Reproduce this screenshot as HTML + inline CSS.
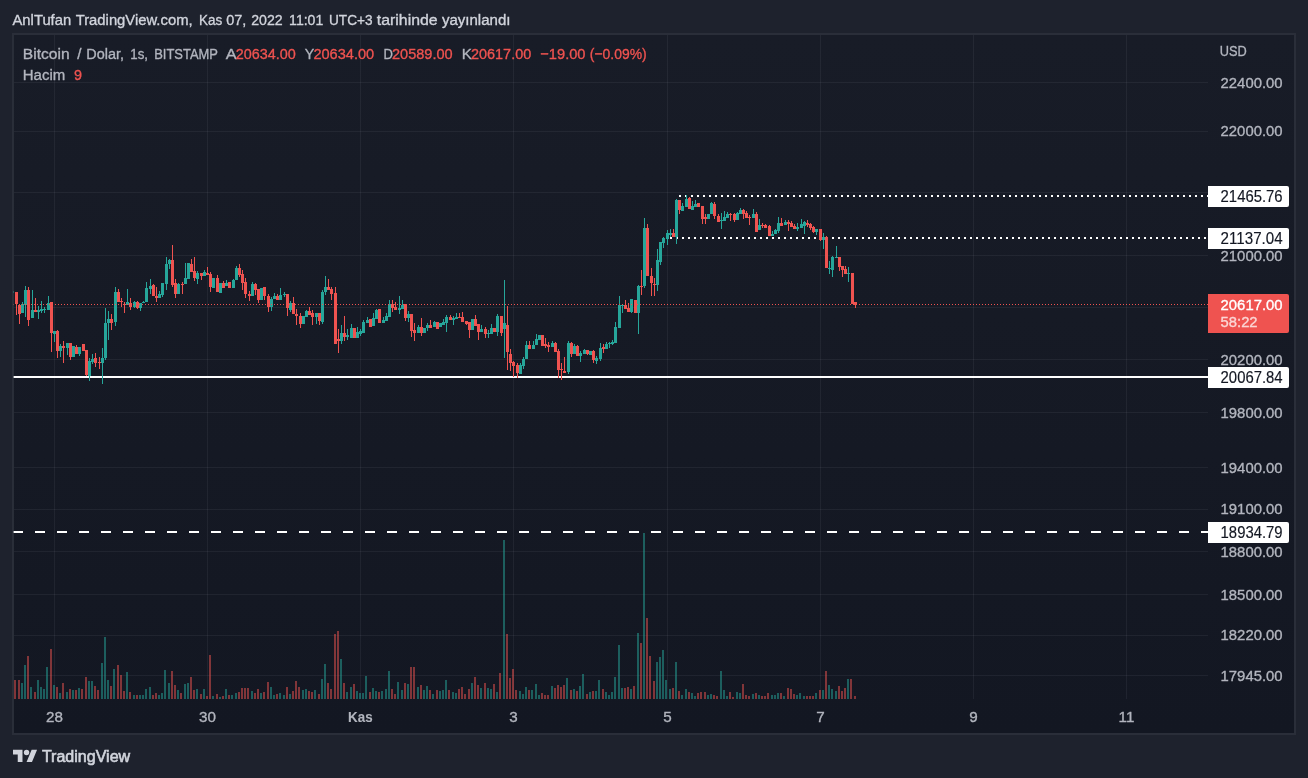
<!DOCTYPE html>
<html lang="tr"><head><meta charset="utf-8"><title>BTCUSD - TradingView</title>
<style>html,body{margin:0;padding:0;background:#1e222d;}body{width:1308px;height:778px;overflow:hidden;}svg{display:block;will-change:transform;}text{font-family:"Liberation Sans",sans-serif;}</style>
</head><body>
<svg width="1308" height="778" viewBox="0 0 1308 778">
<rect x="0" y="0" width="1308" height="778" fill="#1e222d"/>
<rect x="12" y="33" width="1284" height="702" fill="#2a2e39" shape-rendering="crispEdges"/>
<defs><linearGradient id="bg" gradientUnits="userSpaceOnUse" x1="0" y1="35" x2="0" y2="733"><stop offset="0" stop-color="#181c27"/><stop offset="1" stop-color="#131722"/></linearGradient></defs>
<rect x="14" y="35" width="1280" height="698" fill="url(#bg)" shape-rendering="crispEdges"/>
<g fill="#f0f3fa" fill-opacity="0.06" shape-rendering="crispEdges">
<rect x="54" y="35" width="1" height="664"/>
<rect x="207" y="35" width="1" height="664"/>
<rect x="360" y="35" width="1" height="664"/>
<rect x="513" y="35" width="1" height="664"/>
<rect x="667" y="35" width="1" height="664"/>
<rect x="820" y="35" width="1" height="664"/>
<rect x="973" y="35" width="1" height="664"/>
<rect x="1126" y="35" width="1" height="664"/>
<rect x="14" y="82" width="1194" height="1"/>
<rect x="14" y="131" width="1194" height="1"/>
<rect x="14" y="192" width="1194" height="1"/>
<rect x="14" y="255" width="1194" height="1"/>
<rect x="14" y="307" width="1194" height="1"/>
<rect x="14" y="359" width="1194" height="1"/>
<rect x="14" y="412" width="1194" height="1"/>
<rect x="14" y="467" width="1194" height="1"/>
<rect x="14" y="509" width="1194" height="1"/>
<rect x="14" y="551" width="1194" height="1"/>
<rect x="14" y="594" width="1194" height="1"/>
<rect x="14" y="635" width="1194" height="1"/>
<rect x="14" y="675" width="1194" height="1"/>
</g>
<clipPath id="pane"><rect x="13" y="35" width="1195" height="664"/></clipPath>
<g clip-path="url(#pane)" shape-rendering="crispEdges">
<rect x="13" y="376" width="1195" height="2" fill="#ffffff"/>
<line x1="13" y1="532" x2="1208" y2="532" stroke="#ffffff" stroke-width="2" stroke-dasharray="10 12"/>
<line x1="679" y1="196" x2="1208" y2="196" stroke="#ffffff" stroke-width="2" stroke-dasharray="2 4"/>
<line x1="670" y1="238" x2="1208" y2="238" stroke="#ffffff" stroke-width="2" stroke-dasharray="2 4"/>
<g fill="#26a69a" fill-opacity="0.5"><rect x="21" y="683" width="2" height="16"/><rect x="24" y="665" width="2" height="34"/><rect x="30" y="687" width="2" height="12"/><rect x="37" y="680" width="2" height="19"/><rect x="40" y="687" width="2" height="12"/><rect x="43" y="689" width="2" height="10"/><rect x="46" y="667" width="2" height="32"/><rect x="53" y="685" width="2" height="14"/><rect x="59" y="693" width="2" height="6"/><rect x="66" y="692" width="2" height="7"/><rect x="72" y="690" width="2" height="9"/><rect x="78" y="688" width="2" height="11"/><rect x="88" y="681" width="2" height="18"/><rect x="91" y="681" width="2" height="18"/><rect x="101" y="663" width="2" height="36"/><rect x="104" y="637" width="2" height="62"/><rect x="107" y="680" width="2" height="19"/><rect x="113" y="669" width="2" height="30"/><rect x="126" y="672" width="2" height="27"/><rect x="133" y="695" width="2" height="4"/><rect x="139" y="695" width="2" height="4"/><rect x="142" y="695" width="2" height="4"/><rect x="145" y="689" width="2" height="10"/><rect x="149" y="687" width="2" height="12"/><rect x="158" y="695" width="2" height="4"/><rect x="161" y="693" width="2" height="6"/><rect x="164" y="670" width="2" height="29"/><rect x="168" y="683" width="2" height="16"/><rect x="177" y="690" width="2" height="9"/><rect x="184" y="684" width="2" height="15"/><rect x="187" y="683" width="2" height="16"/><rect x="196" y="689" width="2" height="10"/><rect x="203" y="689" width="2" height="10"/><rect x="212" y="696" width="2" height="3"/><rect x="219" y="697" width="2" height="2"/><rect x="225" y="689" width="2" height="10"/><rect x="231" y="695" width="2" height="4"/><rect x="235" y="693" width="2" height="6"/><rect x="251" y="691" width="2" height="8"/><rect x="260" y="693" width="2" height="6"/><rect x="270" y="687" width="2" height="12"/><rect x="273" y="695" width="2" height="4"/><rect x="279" y="693" width="2" height="6"/><rect x="283" y="695" width="2" height="4"/><rect x="289" y="694" width="2" height="5"/><rect x="302" y="690" width="2" height="9"/><rect x="305" y="689" width="2" height="10"/><rect x="314" y="690" width="2" height="9"/><rect x="321" y="679" width="2" height="20"/><rect x="324" y="664" width="2" height="35"/><rect x="340" y="659" width="2" height="40"/><rect x="346" y="692" width="2" height="7"/><rect x="350" y="687" width="2" height="12"/><rect x="356" y="691" width="2" height="8"/><rect x="359" y="693" width="2" height="6"/><rect x="362" y="693" width="2" height="6"/><rect x="365" y="676" width="2" height="23"/><rect x="372" y="688" width="2" height="11"/><rect x="375" y="691" width="2" height="8"/><rect x="381" y="691" width="2" height="8"/><rect x="385" y="689" width="2" height="10"/><rect x="388" y="671" width="2" height="28"/><rect x="397" y="682" width="2" height="17"/><rect x="401" y="690" width="2" height="9"/><rect x="407" y="684" width="2" height="15"/><rect x="417" y="687" width="2" height="12"/><rect x="423" y="690" width="2" height="9"/><rect x="426" y="686" width="2" height="13"/><rect x="432" y="694" width="2" height="5"/><rect x="439" y="691" width="2" height="8"/><rect x="442" y="690" width="2" height="9"/><rect x="445" y="680" width="2" height="19"/><rect x="452" y="692" width="2" height="7"/><rect x="455" y="693" width="2" height="6"/><rect x="471" y="683" width="2" height="16"/><rect x="480" y="688" width="2" height="11"/><rect x="487" y="688" width="2" height="11"/><rect x="490" y="689" width="2" height="10"/><rect x="496" y="692" width="2" height="7"/><rect x="503" y="540" width="2" height="159"/><rect x="519" y="691" width="2" height="8"/><rect x="522" y="694" width="2" height="5"/><rect x="525" y="687" width="2" height="12"/><rect x="531" y="690" width="2" height="9"/><rect x="535" y="684" width="2" height="15"/><rect x="538" y="695" width="2" height="4"/><rect x="551" y="686" width="2" height="13"/><rect x="566" y="678" width="2" height="21"/><rect x="573" y="689" width="2" height="10"/><rect x="579" y="686" width="2" height="13"/><rect x="582" y="674" width="2" height="25"/><rect x="589" y="692" width="2" height="7"/><rect x="595" y="691" width="2" height="8"/><rect x="598" y="680" width="2" height="19"/><rect x="605" y="692" width="2" height="7"/><rect x="608" y="695" width="2" height="4"/><rect x="611" y="692" width="2" height="7"/><rect x="614" y="677" width="2" height="22"/><rect x="618" y="645" width="2" height="54"/><rect x="621" y="688" width="2" height="11"/><rect x="630" y="689" width="2" height="10"/><rect x="637" y="633" width="2" height="66"/><rect x="643" y="533" width="2" height="166"/><rect x="656" y="662" width="2" height="37"/><rect x="659" y="657" width="2" height="42"/><rect x="662" y="650" width="2" height="49"/><rect x="665" y="680" width="2" height="19"/><rect x="669" y="689" width="2" height="10"/><rect x="675" y="662" width="2" height="37"/><rect x="681" y="695" width="2" height="4"/><rect x="685" y="689" width="2" height="10"/><rect x="691" y="693" width="2" height="6"/><rect x="694" y="696" width="2" height="3"/><rect x="707" y="695" width="2" height="4"/><rect x="710" y="694" width="2" height="5"/><rect x="720" y="671" width="2" height="28"/><rect x="723" y="690" width="2" height="9"/><rect x="726" y="696" width="2" height="3"/><rect x="736" y="692" width="2" height="7"/><rect x="739" y="693" width="2" height="6"/><rect x="752" y="694" width="2" height="5"/><rect x="758" y="695" width="2" height="4"/><rect x="771" y="695" width="2" height="4"/><rect x="774" y="695" width="2" height="4"/><rect x="777" y="693" width="2" height="6"/><rect x="783" y="696" width="2" height="3"/><rect x="796" y="695" width="2" height="4"/><rect x="799" y="693" width="2" height="6"/><rect x="803" y="696" width="2" height="3"/><rect x="815" y="693" width="2" height="6"/><rect x="822" y="690" width="2" height="9"/><rect x="828" y="685" width="2" height="14"/><rect x="831" y="689" width="2" height="10"/><rect x="835" y="691" width="2" height="8"/><rect x="847" y="679" width="2" height="20"/></g>
<g fill="#ef5350" fill-opacity="0.5"><rect x="14" y="680" width="2" height="19"/><rect x="18" y="680" width="2" height="19"/><rect x="27" y="656" width="2" height="43"/><rect x="34" y="692" width="2" height="7"/><rect x="50" y="649" width="2" height="50"/><rect x="56" y="687" width="2" height="12"/><rect x="62" y="683" width="2" height="16"/><rect x="69" y="689" width="2" height="10"/><rect x="75" y="690" width="2" height="9"/><rect x="81" y="689" width="2" height="10"/><rect x="85" y="677" width="2" height="22"/><rect x="94" y="686" width="2" height="13"/><rect x="97" y="690" width="2" height="9"/><rect x="110" y="686" width="2" height="13"/><rect x="117" y="665" width="2" height="34"/><rect x="120" y="675" width="2" height="24"/><rect x="123" y="691" width="2" height="8"/><rect x="129" y="692" width="2" height="7"/><rect x="136" y="695" width="2" height="4"/><rect x="152" y="695" width="2" height="4"/><rect x="155" y="693" width="2" height="6"/><rect x="171" y="671" width="2" height="28"/><rect x="174" y="685" width="2" height="14"/><rect x="180" y="693" width="2" height="6"/><rect x="190" y="677" width="2" height="22"/><rect x="193" y="690" width="2" height="9"/><rect x="200" y="694" width="2" height="5"/><rect x="206" y="696" width="2" height="3"/><rect x="209" y="655" width="2" height="44"/><rect x="216" y="694" width="2" height="5"/><rect x="222" y="696" width="2" height="3"/><rect x="228" y="695" width="2" height="4"/><rect x="238" y="692" width="2" height="7"/><rect x="241" y="688" width="2" height="11"/><rect x="244" y="688" width="2" height="11"/><rect x="247" y="688" width="2" height="11"/><rect x="254" y="693" width="2" height="6"/><rect x="257" y="689" width="2" height="10"/><rect x="263" y="692" width="2" height="7"/><rect x="267" y="682" width="2" height="17"/><rect x="276" y="694" width="2" height="5"/><rect x="286" y="687" width="2" height="12"/><rect x="292" y="691" width="2" height="8"/><rect x="295" y="681" width="2" height="18"/><rect x="298" y="687" width="2" height="12"/><rect x="308" y="691" width="2" height="8"/><rect x="311" y="692" width="2" height="7"/><rect x="318" y="694" width="2" height="5"/><rect x="327" y="683" width="2" height="16"/><rect x="330" y="689" width="2" height="10"/><rect x="334" y="634" width="2" height="65"/><rect x="337" y="631" width="2" height="68"/><rect x="343" y="683" width="2" height="16"/><rect x="353" y="684" width="2" height="15"/><rect x="369" y="692" width="2" height="7"/><rect x="378" y="692" width="2" height="7"/><rect x="391" y="689" width="2" height="10"/><rect x="394" y="694" width="2" height="5"/><rect x="404" y="683" width="2" height="16"/><rect x="410" y="667" width="2" height="32"/><rect x="413" y="667" width="2" height="32"/><rect x="420" y="685" width="2" height="14"/><rect x="429" y="690" width="2" height="9"/><rect x="436" y="690" width="2" height="9"/><rect x="448" y="690" width="2" height="9"/><rect x="458" y="689" width="2" height="10"/><rect x="461" y="687" width="2" height="12"/><rect x="464" y="694" width="2" height="5"/><rect x="468" y="689" width="2" height="10"/><rect x="474" y="677" width="2" height="22"/><rect x="477" y="685" width="2" height="14"/><rect x="484" y="683" width="2" height="16"/><rect x="493" y="684" width="2" height="15"/><rect x="499" y="673" width="2" height="26"/><rect x="506" y="634" width="2" height="65"/><rect x="509" y="678" width="2" height="21"/><rect x="512" y="669" width="2" height="30"/><rect x="515" y="690" width="2" height="9"/><rect x="528" y="690" width="2" height="9"/><rect x="541" y="693" width="2" height="6"/><rect x="544" y="695" width="2" height="4"/><rect x="547" y="695" width="2" height="4"/><rect x="554" y="688" width="2" height="11"/><rect x="557" y="685" width="2" height="14"/><rect x="560" y="687" width="2" height="12"/><rect x="563" y="685" width="2" height="14"/><rect x="570" y="690" width="2" height="9"/><rect x="576" y="691" width="2" height="8"/><rect x="586" y="694" width="2" height="5"/><rect x="592" y="691" width="2" height="8"/><rect x="602" y="689" width="2" height="10"/><rect x="624" y="688" width="2" height="11"/><rect x="627" y="687" width="2" height="12"/><rect x="633" y="686" width="2" height="13"/><rect x="640" y="643" width="2" height="56"/><rect x="646" y="618" width="2" height="81"/><rect x="649" y="656" width="2" height="43"/><rect x="653" y="681" width="2" height="18"/><rect x="672" y="688" width="2" height="11"/><rect x="678" y="691" width="2" height="8"/><rect x="688" y="692" width="2" height="7"/><rect x="697" y="693" width="2" height="6"/><rect x="700" y="692" width="2" height="7"/><rect x="704" y="692" width="2" height="7"/><rect x="713" y="695" width="2" height="4"/><rect x="716" y="696" width="2" height="3"/><rect x="729" y="692" width="2" height="7"/><rect x="732" y="697" width="2" height="2"/><rect x="742" y="684" width="2" height="15"/><rect x="745" y="695" width="2" height="4"/><rect x="748" y="696" width="2" height="3"/><rect x="755" y="693" width="2" height="6"/><rect x="761" y="696" width="2" height="3"/><rect x="764" y="696" width="2" height="3"/><rect x="767" y="693" width="2" height="6"/><rect x="780" y="693" width="2" height="6"/><rect x="787" y="688" width="2" height="11"/><rect x="790" y="689" width="2" height="10"/><rect x="793" y="694" width="2" height="5"/><rect x="806" y="696" width="2" height="3"/><rect x="809" y="696" width="2" height="3"/><rect x="812" y="696" width="2" height="3"/><rect x="819" y="690" width="2" height="9"/><rect x="825" y="671" width="2" height="28"/><rect x="838" y="686" width="2" height="13"/><rect x="841" y="691" width="2" height="8"/><rect x="844" y="688" width="2" height="11"/><rect x="850" y="679" width="2" height="20"/><rect x="854" y="696" width="2" height="3"/></g>
<g fill="#26a69a"><rect x="11" y="291" width="3" height="2"/><rect x="22" y="302" width="1" height="11"/><rect x="21" y="304" width="3" height="9"/><rect x="25" y="286" width="1" height="31"/><rect x="24" y="290" width="3" height="15"/><rect x="32" y="290" width="1" height="28"/><rect x="31" y="310" width="3" height="8"/><rect x="38" y="306" width="1" height="13"/><rect x="37" y="310" width="3" height="2"/><rect x="41" y="301" width="1" height="12"/><rect x="40" y="309" width="3" height="2"/><rect x="44" y="307" width="1" height="6"/><rect x="43" y="309" width="3" height="1"/><rect x="48" y="296" width="1" height="14"/><rect x="47" y="303" width="3" height="7"/><rect x="54" y="331" width="1" height="11"/><rect x="53" y="331" width="3" height="3"/><rect x="60" y="344" width="1" height="13"/><rect x="59" y="346" width="3" height="5"/><rect x="67" y="343" width="1" height="12"/><rect x="66" y="343" width="3" height="5"/><rect x="72" y="346" width="3" height="11"/><rect x="79" y="347" width="1" height="9"/><rect x="78" y="347" width="3" height="7"/><rect x="89" y="358" width="1" height="23"/><rect x="88" y="361" width="3" height="15"/><rect x="92" y="354" width="1" height="10"/><rect x="91" y="359" width="3" height="3"/><rect x="102" y="348" width="1" height="36"/><rect x="101" y="358" width="3" height="5"/><rect x="105" y="308" width="1" height="52"/><rect x="104" y="323" width="3" height="35"/><rect x="108" y="311" width="1" height="29"/><rect x="107" y="319" width="3" height="4"/><rect x="115" y="287" width="1" height="39"/><rect x="114" y="292" width="3" height="30"/><rect x="127" y="289" width="1" height="16"/><rect x="126" y="302" width="3" height="3"/><rect x="134" y="301" width="1" height="7"/><rect x="133" y="302" width="3" height="5"/><rect x="140" y="303" width="1" height="8"/><rect x="139" y="303" width="3" height="5"/><rect x="143" y="301" width="1" height="2"/><rect x="142" y="302" width="3" height="1"/><rect x="146" y="282" width="1" height="20"/><rect x="145" y="288" width="3" height="14"/><rect x="150" y="279" width="1" height="15"/><rect x="149" y="286" width="3" height="3"/><rect x="159" y="291" width="1" height="7"/><rect x="158" y="294" width="3" height="4"/><rect x="162" y="283" width="1" height="14"/><rect x="161" y="283" width="3" height="12"/><rect x="166" y="257" width="1" height="33"/><rect x="165" y="264" width="3" height="20"/><rect x="169" y="259" width="1" height="10"/><rect x="168" y="260" width="3" height="4"/><rect x="178" y="283" width="1" height="11"/><rect x="177" y="284" width="3" height="10"/><rect x="185" y="263" width="1" height="21"/><rect x="184" y="278" width="3" height="6"/><rect x="187" y="263" width="3" height="16"/><rect x="197" y="271" width="1" height="13"/><rect x="196" y="273" width="3" height="6"/><rect x="204" y="270" width="1" height="6"/><rect x="203" y="272" width="3" height="4"/><rect x="212" y="278" width="3" height="10"/><rect x="219" y="283" width="3" height="10"/><rect x="226" y="280" width="1" height="6"/><rect x="225" y="283" width="3" height="3"/><rect x="233" y="279" width="1" height="9"/><rect x="232" y="280" width="3" height="8"/><rect x="236" y="266" width="1" height="14"/><rect x="235" y="268" width="3" height="12"/><rect x="252" y="282" width="1" height="14"/><rect x="251" y="284" width="3" height="12"/><rect x="260" y="288" width="3" height="12"/><rect x="271" y="297" width="1" height="14"/><rect x="270" y="299" width="3" height="8"/><rect x="274" y="293" width="1" height="6"/><rect x="273" y="296" width="3" height="3"/><rect x="280" y="288" width="1" height="12"/><rect x="279" y="295" width="3" height="5"/><rect x="284" y="292" width="1" height="5"/><rect x="283" y="294" width="3" height="1"/><rect x="290" y="301" width="1" height="11"/><rect x="289" y="303" width="3" height="7"/><rect x="302" y="316" width="3" height="8"/><rect x="306" y="310" width="1" height="7"/><rect x="305" y="311" width="3" height="6"/><rect x="316" y="313" width="1" height="11"/><rect x="315" y="313" width="3" height="4"/><rect x="322" y="290" width="1" height="34"/><rect x="321" y="292" width="3" height="30"/><rect x="325" y="276" width="1" height="19"/><rect x="324" y="287" width="3" height="5"/><rect x="341" y="325" width="1" height="19"/><rect x="340" y="333" width="3" height="8"/><rect x="347" y="329" width="1" height="11"/><rect x="346" y="335" width="3" height="2"/><rect x="351" y="324" width="1" height="14"/><rect x="350" y="328" width="3" height="10"/><rect x="357" y="327" width="1" height="11"/><rect x="356" y="332" width="3" height="6"/><rect x="360" y="329" width="1" height="7"/><rect x="359" y="331" width="3" height="3"/><rect x="363" y="320" width="1" height="13"/><rect x="362" y="322" width="3" height="11"/><rect x="367" y="317" width="1" height="6"/><rect x="366" y="320" width="3" height="3"/><rect x="373" y="313" width="1" height="13"/><rect x="372" y="318" width="3" height="8"/><rect x="376" y="309" width="1" height="10"/><rect x="375" y="310" width="3" height="9"/><rect x="383" y="317" width="1" height="6"/><rect x="382" y="320" width="3" height="3"/><rect x="386" y="313" width="1" height="8"/><rect x="385" y="316" width="3" height="5"/><rect x="389" y="300" width="1" height="17"/><rect x="388" y="304" width="3" height="13"/><rect x="399" y="296" width="1" height="18"/><rect x="398" y="308" width="3" height="2"/><rect x="402" y="300" width="1" height="9"/><rect x="401" y="305" width="3" height="4"/><rect x="408" y="311" width="1" height="11"/><rect x="407" y="314" width="3" height="4"/><rect x="418" y="325" width="1" height="8"/><rect x="417" y="327" width="3" height="6"/><rect x="423" y="328" width="3" height="5"/><rect x="427" y="323" width="1" height="8"/><rect x="426" y="325" width="3" height="3"/><rect x="434" y="321" width="1" height="6"/><rect x="433" y="322" width="3" height="5"/><rect x="439" y="323" width="3" height="4"/><rect x="443" y="319" width="1" height="6"/><rect x="442" y="322" width="3" height="3"/><rect x="446" y="315" width="1" height="17"/><rect x="445" y="317" width="3" height="6"/><rect x="453" y="316" width="1" height="9"/><rect x="452" y="318" width="3" height="2"/><rect x="456" y="313" width="1" height="6"/><rect x="455" y="317" width="3" height="2"/><rect x="471" y="319" width="3" height="11"/><rect x="481" y="325" width="1" height="7"/><rect x="480" y="329" width="3" height="3"/><rect x="488" y="330" width="1" height="8"/><rect x="487" y="333" width="3" height="1"/><rect x="491" y="324" width="1" height="10"/><rect x="490" y="328" width="3" height="6"/><rect x="497" y="314" width="1" height="22"/><rect x="496" y="316" width="3" height="16"/><rect x="504" y="280" width="1" height="78"/><rect x="503" y="323" width="3" height="6"/><rect x="520" y="363" width="1" height="11"/><rect x="519" y="365" width="3" height="9"/><rect x="523" y="357" width="1" height="12"/><rect x="522" y="359" width="3" height="7"/><rect x="526" y="341" width="1" height="18"/><rect x="525" y="345" width="3" height="14"/><rect x="533" y="341" width="1" height="8"/><rect x="532" y="345" width="3" height="4"/><rect x="536" y="334" width="1" height="11"/><rect x="535" y="339" width="3" height="6"/><rect x="538" y="335" width="3" height="5"/><rect x="552" y="341" width="1" height="6"/><rect x="551" y="343" width="3" height="4"/><rect x="568" y="341" width="1" height="33"/><rect x="567" y="343" width="3" height="29"/><rect x="574" y="344" width="1" height="10"/><rect x="573" y="346" width="3" height="8"/><rect x="580" y="351" width="1" height="11"/><rect x="579" y="353" width="3" height="3"/><rect x="584" y="349" width="1" height="5"/><rect x="583" y="350" width="3" height="4"/><rect x="589" y="351" width="3" height="4"/><rect x="596" y="356" width="1" height="8"/><rect x="595" y="358" width="3" height="3"/><rect x="600" y="343" width="1" height="18"/><rect x="599" y="348" width="3" height="11"/><rect x="606" y="342" width="1" height="7"/><rect x="605" y="344" width="3" height="5"/><rect x="609" y="342" width="1" height="6"/><rect x="608" y="343" width="3" height="1"/><rect x="612" y="340" width="1" height="5"/><rect x="611" y="342" width="3" height="2"/><rect x="615" y="322" width="1" height="21"/><rect x="614" y="327" width="3" height="16"/><rect x="619" y="296" width="1" height="32"/><rect x="618" y="305" width="3" height="23"/><rect x="622" y="304" width="1" height="9"/><rect x="621" y="305" width="3" height="1"/><rect x="631" y="299" width="1" height="14"/><rect x="630" y="299" width="3" height="13"/><rect x="638" y="285" width="1" height="49"/><rect x="637" y="286" width="3" height="27"/><rect x="644" y="218" width="1" height="70"/><rect x="643" y="228" width="3" height="58"/><rect x="657" y="249" width="1" height="42"/><rect x="656" y="260" width="3" height="25"/><rect x="660" y="242" width="1" height="23"/><rect x="659" y="242" width="3" height="20"/><rect x="663" y="237" width="1" height="11"/><rect x="662" y="238" width="3" height="5"/><rect x="667" y="230" width="1" height="15"/><rect x="666" y="233" width="3" height="6"/><rect x="670" y="229" width="1" height="8"/><rect x="669" y="233" width="3" height="2"/><rect x="676" y="199" width="1" height="45"/><rect x="675" y="200" width="3" height="37"/><rect x="682" y="203" width="1" height="8"/><rect x="681" y="206" width="3" height="5"/><rect x="686" y="195" width="1" height="12"/><rect x="685" y="199" width="3" height="8"/><rect x="692" y="201" width="1" height="9"/><rect x="691" y="206" width="3" height="4"/><rect x="695" y="200" width="1" height="7"/><rect x="694" y="204" width="3" height="3"/><rect x="707" y="214" width="3" height="5"/><rect x="711" y="202" width="1" height="12"/><rect x="710" y="203" width="3" height="11"/><rect x="721" y="213" width="1" height="16"/><rect x="720" y="220" width="3" height="1"/><rect x="724" y="211" width="1" height="10"/><rect x="723" y="217" width="3" height="4"/><rect x="727" y="212" width="1" height="6"/><rect x="726" y="214" width="3" height="4"/><rect x="737" y="212" width="1" height="8"/><rect x="736" y="213" width="3" height="7"/><rect x="740" y="208" width="1" height="6"/><rect x="739" y="210" width="3" height="4"/><rect x="753" y="209" width="1" height="9"/><rect x="752" y="214" width="3" height="4"/><rect x="759" y="219" width="1" height="11"/><rect x="758" y="225" width="3" height="5"/><rect x="772" y="231" width="1" height="5"/><rect x="771" y="234" width="3" height="2"/><rect x="775" y="229" width="1" height="5"/><rect x="774" y="230" width="3" height="4"/><rect x="778" y="217" width="1" height="16"/><rect x="777" y="223" width="3" height="8"/><rect x="785" y="220" width="1" height="5"/><rect x="784" y="222" width="3" height="3"/><rect x="797" y="223" width="1" height="8"/><rect x="796" y="227" width="3" height="2"/><rect x="801" y="219" width="1" height="9"/><rect x="800" y="224" width="3" height="4"/><rect x="804" y="221" width="1" height="13"/><rect x="803" y="222" width="3" height="4"/><rect x="816" y="229" width="1" height="6"/><rect x="815" y="229" width="3" height="3"/><rect x="823" y="233" width="1" height="16"/><rect x="822" y="237" width="3" height="3"/><rect x="829" y="261" width="1" height="13"/><rect x="828" y="268" width="3" height="1"/><rect x="832" y="256" width="1" height="21"/><rect x="831" y="257" width="3" height="13"/><rect x="836" y="246" width="1" height="12"/><rect x="835" y="257" width="3" height="1"/><rect x="848" y="267" width="1" height="15"/><rect x="847" y="273" width="3" height="1"/></g>
<g fill="#ef5350"><rect x="16" y="292" width="1" height="23"/><rect x="15" y="292" width="3" height="12"/><rect x="19" y="305" width="1" height="19"/><rect x="18" y="305" width="3" height="9"/><rect x="28" y="287" width="1" height="39"/><rect x="27" y="290" width="3" height="30"/><rect x="35" y="298" width="1" height="14"/><rect x="34" y="310" width="3" height="2"/><rect x="51" y="302" width="1" height="50"/><rect x="50" y="302" width="3" height="31"/><rect x="57" y="330" width="1" height="28"/><rect x="56" y="331" width="3" height="20"/><rect x="63" y="341" width="1" height="22"/><rect x="62" y="346" width="3" height="2"/><rect x="70" y="343" width="1" height="17"/><rect x="69" y="343" width="3" height="14"/><rect x="76" y="345" width="1" height="9"/><rect x="75" y="347" width="3" height="7"/><rect x="82" y="344" width="3" height="7"/><rect x="86" y="350" width="1" height="26"/><rect x="85" y="350" width="3" height="25"/><rect x="95" y="353" width="1" height="14"/><rect x="94" y="358" width="3" height="5"/><rect x="99" y="357" width="1" height="12"/><rect x="98" y="362" width="3" height="1"/><rect x="111" y="314" width="1" height="16"/><rect x="110" y="319" width="3" height="4"/><rect x="118" y="289" width="1" height="13"/><rect x="117" y="292" width="3" height="10"/><rect x="121" y="298" width="1" height="9"/><rect x="120" y="301" width="3" height="1"/><rect x="124" y="302" width="1" height="11"/><rect x="123" y="304" width="3" height="1"/><rect x="130" y="298" width="1" height="12"/><rect x="129" y="303" width="3" height="4"/><rect x="137" y="301" width="1" height="8"/><rect x="136" y="302" width="3" height="6"/><rect x="153" y="284" width="1" height="12"/><rect x="152" y="285" width="3" height="11"/><rect x="156" y="287" width="1" height="15"/><rect x="155" y="296" width="3" height="2"/><rect x="172" y="245" width="1" height="42"/><rect x="171" y="260" width="3" height="25"/><rect x="175" y="279" width="1" height="19"/><rect x="174" y="283" width="3" height="11"/><rect x="182" y="282" width="1" height="12"/><rect x="181" y="284" width="3" height="1"/><rect x="191" y="259" width="1" height="13"/><rect x="190" y="264" width="3" height="8"/><rect x="194" y="257" width="1" height="24"/><rect x="193" y="271" width="3" height="7"/><rect x="201" y="273" width="1" height="7"/><rect x="200" y="273" width="3" height="3"/><rect x="207" y="267" width="1" height="8"/><rect x="206" y="273" width="3" height="2"/><rect x="210" y="272" width="1" height="20"/><rect x="209" y="274" width="3" height="13"/><rect x="217" y="275" width="1" height="17"/><rect x="216" y="278" width="3" height="14"/><rect x="223" y="281" width="1" height="7"/><rect x="222" y="283" width="3" height="5"/><rect x="228" y="282" width="3" height="6"/><rect x="239" y="264" width="1" height="13"/><rect x="238" y="268" width="3" height="7"/><rect x="242" y="270" width="1" height="20"/><rect x="241" y="274" width="3" height="9"/><rect x="245" y="278" width="1" height="20"/><rect x="244" y="282" width="3" height="12"/><rect x="249" y="291" width="1" height="10"/><rect x="248" y="294" width="3" height="2"/><rect x="255" y="283" width="1" height="12"/><rect x="254" y="284" width="3" height="6"/><rect x="258" y="289" width="1" height="14"/><rect x="257" y="289" width="3" height="11"/><rect x="264" y="287" width="1" height="13"/><rect x="263" y="287" width="3" height="9"/><rect x="268" y="294" width="1" height="18"/><rect x="267" y="296" width="3" height="11"/><rect x="277" y="294" width="1" height="6"/><rect x="276" y="296" width="3" height="4"/><rect x="287" y="294" width="1" height="22"/><rect x="286" y="294" width="3" height="14"/><rect x="293" y="297" width="1" height="17"/><rect x="292" y="303" width="3" height="11"/><rect x="296" y="309" width="1" height="16"/><rect x="295" y="314" width="3" height="2"/><rect x="300" y="313" width="1" height="15"/><rect x="299" y="316" width="3" height="8"/><rect x="309" y="307" width="1" height="8"/><rect x="308" y="311" width="3" height="4"/><rect x="312" y="310" width="1" height="15"/><rect x="311" y="313" width="3" height="4"/><rect x="319" y="313" width="1" height="12"/><rect x="318" y="313" width="3" height="8"/><rect x="328" y="279" width="1" height="11"/><rect x="327" y="287" width="3" height="3"/><rect x="331" y="287" width="1" height="13"/><rect x="330" y="289" width="3" height="5"/><rect x="335" y="287" width="1" height="57"/><rect x="334" y="293" width="3" height="51"/><rect x="338" y="329" width="1" height="24"/><rect x="337" y="339" width="3" height="2"/><rect x="344" y="316" width="1" height="25"/><rect x="343" y="333" width="3" height="4"/><rect x="353" y="328" width="3" height="10"/><rect x="369" y="319" width="3" height="8"/><rect x="378" y="309" width="3" height="14"/><rect x="392" y="300" width="1" height="12"/><rect x="391" y="304" width="3" height="4"/><rect x="395" y="302" width="1" height="8"/><rect x="394" y="307" width="3" height="3"/><rect x="405" y="304" width="1" height="17"/><rect x="404" y="304" width="3" height="14"/><rect x="411" y="314" width="1" height="23"/><rect x="410" y="314" width="3" height="17"/><rect x="414" y="323" width="1" height="18"/><rect x="413" y="330" width="3" height="3"/><rect x="421" y="318" width="1" height="18"/><rect x="420" y="327" width="3" height="6"/><rect x="430" y="320" width="1" height="8"/><rect x="429" y="325" width="3" height="3"/><rect x="436" y="322" width="3" height="7"/><rect x="450" y="315" width="1" height="5"/><rect x="449" y="317" width="3" height="3"/><rect x="459" y="313" width="1" height="5"/><rect x="458" y="317" width="3" height="1"/><rect x="462" y="312" width="1" height="10"/><rect x="461" y="317" width="3" height="5"/><rect x="466" y="321" width="1" height="4"/><rect x="465" y="321" width="3" height="3"/><rect x="469" y="322" width="1" height="16"/><rect x="468" y="322" width="3" height="8"/><rect x="475" y="315" width="1" height="11"/><rect x="474" y="319" width="3" height="7"/><rect x="478" y="324" width="1" height="16"/><rect x="477" y="324" width="3" height="8"/><rect x="485" y="327" width="1" height="11"/><rect x="484" y="329" width="3" height="5"/><rect x="493" y="328" width="3" height="4"/><rect x="501" y="316" width="1" height="20"/><rect x="500" y="316" width="3" height="17"/><rect x="507" y="306" width="1" height="64"/><rect x="506" y="325" width="3" height="27"/><rect x="510" y="349" width="1" height="22"/><rect x="509" y="354" width="3" height="9"/><rect x="513" y="361" width="1" height="16"/><rect x="512" y="362" width="3" height="4"/><rect x="517" y="363" width="1" height="15"/><rect x="516" y="365" width="3" height="8"/><rect x="529" y="341" width="1" height="8"/><rect x="528" y="345" width="3" height="4"/><rect x="541" y="335" width="3" height="11"/><rect x="545" y="338" width="1" height="10"/><rect x="544" y="344" width="3" height="2"/><rect x="548" y="342" width="1" height="10"/><rect x="547" y="345" width="3" height="2"/><rect x="555" y="342" width="1" height="10"/><rect x="554" y="343" width="3" height="9"/><rect x="558" y="349" width="1" height="29"/><rect x="557" y="351" width="3" height="19"/><rect x="561" y="363" width="1" height="17"/><rect x="560" y="369" width="3" height="1"/><rect x="564" y="357" width="1" height="16"/><rect x="563" y="371" width="3" height="2"/><rect x="571" y="342" width="1" height="15"/><rect x="570" y="343" width="3" height="11"/><rect x="577" y="345" width="1" height="11"/><rect x="576" y="346" width="3" height="10"/><rect x="587" y="350" width="1" height="5"/><rect x="586" y="350" width="3" height="4"/><rect x="593" y="350" width="1" height="13"/><rect x="592" y="351" width="3" height="9"/><rect x="603" y="344" width="1" height="9"/><rect x="602" y="347" width="3" height="2"/><rect x="625" y="300" width="1" height="9"/><rect x="624" y="305" width="3" height="4"/><rect x="628" y="303" width="1" height="9"/><rect x="627" y="308" width="3" height="4"/><rect x="634" y="300" width="3" height="13"/><rect x="641" y="270" width="1" height="25"/><rect x="640" y="286" width="3" height="1"/><rect x="647" y="224" width="1" height="52"/><rect x="646" y="228" width="3" height="48"/><rect x="651" y="268" width="1" height="28"/><rect x="650" y="276" width="3" height="7"/><rect x="654" y="278" width="1" height="18"/><rect x="653" y="284" width="3" height="1"/><rect x="673" y="229" width="1" height="8"/><rect x="672" y="233" width="3" height="4"/><rect x="679" y="200" width="1" height="14"/><rect x="678" y="200" width="3" height="10"/><rect x="689" y="197" width="1" height="12"/><rect x="688" y="198" width="3" height="11"/><rect x="697" y="203" width="3" height="4"/><rect x="702" y="206" width="1" height="18"/><rect x="701" y="206" width="3" height="13"/><rect x="705" y="214" width="1" height="10"/><rect x="704" y="217" width="3" height="2"/><rect x="714" y="202" width="1" height="17"/><rect x="713" y="204" width="3" height="12"/><rect x="718" y="214" width="1" height="8"/><rect x="717" y="216" width="3" height="6"/><rect x="730" y="213" width="1" height="8"/><rect x="729" y="214" width="3" height="1"/><rect x="734" y="213" width="1" height="9"/><rect x="733" y="214" width="3" height="6"/><rect x="743" y="209" width="1" height="10"/><rect x="742" y="210" width="3" height="4"/><rect x="746" y="211" width="1" height="7"/><rect x="745" y="213" width="3" height="5"/><rect x="749" y="215" width="1" height="10"/><rect x="748" y="217" width="3" height="1"/><rect x="756" y="212" width="1" height="20"/><rect x="755" y="214" width="3" height="18"/><rect x="762" y="223" width="1" height="5"/><rect x="761" y="225" width="3" height="1"/><rect x="765" y="224" width="1" height="4"/><rect x="764" y="225" width="3" height="3"/><rect x="769" y="225" width="1" height="11"/><rect x="768" y="226" width="3" height="10"/><rect x="781" y="218" width="1" height="8"/><rect x="780" y="223" width="3" height="3"/><rect x="788" y="220" width="1" height="11"/><rect x="787" y="222" width="3" height="2"/><rect x="791" y="221" width="1" height="6"/><rect x="790" y="223" width="3" height="4"/><rect x="794" y="224" width="1" height="5"/><rect x="793" y="226" width="3" height="3"/><rect x="807" y="220" width="1" height="7"/><rect x="806" y="223" width="3" height="2"/><rect x="810" y="223" width="1" height="7"/><rect x="809" y="224" width="3" height="4"/><rect x="813" y="226" width="1" height="7"/><rect x="812" y="227" width="3" height="5"/><rect x="820" y="229" width="1" height="12"/><rect x="819" y="229" width="3" height="11"/><rect x="826" y="236" width="1" height="32"/><rect x="825" y="237" width="3" height="31"/><rect x="839" y="257" width="1" height="14"/><rect x="838" y="257" width="3" height="10"/><rect x="842" y="266" width="1" height="11"/><rect x="841" y="266" width="3" height="4"/><rect x="845" y="266" width="1" height="8"/><rect x="844" y="269" width="3" height="5"/><rect x="851" y="273" width="3" height="31"/><rect x="855" y="302" width="1" height="6"/><rect x="854" y="302" width="3" height="3"/></g>
<line x1="13" y1="304.5" x2="1208" y2="304.5" stroke="#ef5350" stroke-width="1" stroke-dasharray="1 2"/>
</g>
<rect x="13" y="35" width="1" height="698" fill="#2a2e39" fill-opacity="0.6" shape-rendering="crispEdges"/>
<text x="12.5" y="24.9" font-size="15.2" fill="#d1d4dc" stroke="#d1d4dc" stroke-width="0.35" textLength="58.7" lengthAdjust="spacingAndGlyphs">AnlTufan</text>
<text x="75.7" y="24.9" font-size="15.2" fill="#d1d4dc" stroke="#d1d4dc" stroke-width="0.35" textLength="116.9" lengthAdjust="spacingAndGlyphs">TradingView.com,</text>
<text x="199.0" y="24.9" font-size="15.2" fill="#d1d4dc" stroke="#d1d4dc" stroke-width="0.35" textLength="23.2" lengthAdjust="spacingAndGlyphs">Kas</text>
<text x="226.2" y="24.9" font-size="15.2" fill="#d1d4dc" stroke="#d1d4dc" stroke-width="0.35" textLength="20.1" lengthAdjust="spacingAndGlyphs">07,</text>
<text x="251.2" y="24.9" font-size="15.2" fill="#d1d4dc" stroke="#d1d4dc" stroke-width="0.35" textLength="31.5" lengthAdjust="spacingAndGlyphs">2022</text>
<text x="289.1" y="24.9" font-size="15.2" fill="#d1d4dc" stroke="#d1d4dc" stroke-width="0.35" textLength="34.2" lengthAdjust="spacingAndGlyphs">11:01</text>
<text x="329.0" y="24.9" font-size="15.2" fill="#d1d4dc" stroke="#d1d4dc" stroke-width="0.35" textLength="43.5" lengthAdjust="spacingAndGlyphs">UTC+3</text>
<text x="376.8" y="24.9" font-size="15.2" fill="#d1d4dc" stroke="#d1d4dc" stroke-width="0.35" textLength="60.8" lengthAdjust="spacingAndGlyphs">tarihinde</text>
<text x="441.9" y="24.9" font-size="15.2" fill="#d1d4dc" stroke="#d1d4dc" stroke-width="0.35" textLength="68.6" lengthAdjust="spacingAndGlyphs">yayınlandı</text>
<text x="22.8" y="58.9" font-size="15.2" fill="#b2b5be" stroke="#b2b5be" stroke-width="0.35" textLength="46.8" lengthAdjust="spacingAndGlyphs">Bitcoin</text>
<text x="86.3" y="58.9" font-size="15.2" fill="#b2b5be" stroke="#b2b5be" stroke-width="0.35" textLength="37.7" lengthAdjust="spacingAndGlyphs">Dolar,</text>
<text x="130.3" y="58.9" font-size="15.2" fill="#b2b5be" stroke="#b2b5be" stroke-width="0.35" textLength="17.7" lengthAdjust="spacingAndGlyphs">1s,</text>
<text x="154.2" y="58.9" font-size="15.2" fill="#b2b5be" stroke="#b2b5be" stroke-width="0.35" textLength="63.8" lengthAdjust="spacingAndGlyphs">BITSTAMP</text>
<text x="225.7" y="58.9" font-size="15.2" fill="#b2b5be" stroke="#b2b5be" stroke-width="0.35" textLength="10.9" lengthAdjust="spacingAndGlyphs">A</text>
<text x="235.7" y="58.9" font-size="15.2" fill="#ef5350" stroke="#ef5350" stroke-width="0.35" textLength="60.0" lengthAdjust="spacingAndGlyphs">20634.00</text>
<text x="304.8" y="58.9" font-size="15.2" fill="#b2b5be" stroke="#b2b5be" stroke-width="0.35" textLength="9.5" lengthAdjust="spacingAndGlyphs">Y</text>
<text x="313.4" y="58.9" font-size="15.2" fill="#ef5350" stroke="#ef5350" stroke-width="0.35" textLength="60.8" lengthAdjust="spacingAndGlyphs">20634.00</text>
<text x="383.4" y="58.9" font-size="15.2" fill="#b2b5be" stroke="#b2b5be" stroke-width="0.35" textLength="9.4" lengthAdjust="spacingAndGlyphs">D</text>
<text x="392.0" y="58.9" font-size="15.2" fill="#ef5350" stroke="#ef5350" stroke-width="0.35" textLength="60.6" lengthAdjust="spacingAndGlyphs">20589.00</text>
<text x="461.8" y="58.9" font-size="15.2" fill="#b2b5be" stroke="#b2b5be" stroke-width="0.35" textLength="10.1" lengthAdjust="spacingAndGlyphs">K</text>
<text x="471.0" y="58.9" font-size="15.2" fill="#ef5350" stroke="#ef5350" stroke-width="0.35" textLength="60.2" lengthAdjust="spacingAndGlyphs">20617.00</text>
<text x="540.3" y="58.9" font-size="15.2" fill="#ef5350" stroke="#ef5350" stroke-width="0.35" textLength="45.2" lengthAdjust="spacingAndGlyphs">−19.00</text>
<text x="589.8" y="58.9" font-size="15.2" fill="#ef5350" stroke="#ef5350" stroke-width="0.35" textLength="56.9" lengthAdjust="spacingAndGlyphs">(−0.09%)</text>
<text x="79.4" y="58.9" font-size="15.2" fill="#b2b5be" stroke="#b2b5be" stroke-width="0.35" text-anchor="middle">/</text>
<text x="22.8" y="79.5" font-size="15.2" fill="#b2b5be" stroke="#b2b5be" stroke-width="0.35" textLength="42.4" lengthAdjust="spacingAndGlyphs">Hacim</text>
<text x="74.0" y="79.5" font-size="15.2" fill="#ef5350" stroke="#ef5350" stroke-width="0.35" textLength="8" lengthAdjust="spacingAndGlyphs">9</text>
<text x="1219.8" y="56.0" font-size="15.2" fill="#b2b5be" stroke="#b2b5be" stroke-width="0.35" textLength="27" lengthAdjust="spacingAndGlyphs">USD</text>
<text x="1220.6000000000001" y="87.5" font-size="15.2" fill="#b2b5be" stroke="#b2b5be" stroke-width="0.35" textLength="62.0" lengthAdjust="spacingAndGlyphs">22400.00</text>
<text x="1220.6000000000001" y="136.0" font-size="15.2" fill="#b2b5be" stroke="#b2b5be" stroke-width="0.35" textLength="62.0" lengthAdjust="spacingAndGlyphs">22000.00</text>
<text x="1220.6000000000001" y="260.5" font-size="15.2" fill="#b2b5be" stroke="#b2b5be" stroke-width="0.35" textLength="62.0" lengthAdjust="spacingAndGlyphs">21000.00</text>
<text x="1220.6000000000001" y="364.5" font-size="15.2" fill="#b2b5be" stroke="#b2b5be" stroke-width="0.35" textLength="62.0" lengthAdjust="spacingAndGlyphs">20200.00</text>
<text x="1220.6000000000001" y="417.5" font-size="15.2" fill="#b2b5be" stroke="#b2b5be" stroke-width="0.35" textLength="62.0" lengthAdjust="spacingAndGlyphs">19800.00</text>
<text x="1220.6000000000001" y="472.5" font-size="15.2" fill="#b2b5be" stroke="#b2b5be" stroke-width="0.35" textLength="62.0" lengthAdjust="spacingAndGlyphs">19400.00</text>
<text x="1220.6000000000001" y="513.5" font-size="15.2" fill="#b2b5be" stroke="#b2b5be" stroke-width="0.35" textLength="62.0" lengthAdjust="spacingAndGlyphs">19100.00</text>
<text x="1220.6000000000001" y="556.5" font-size="15.2" fill="#b2b5be" stroke="#b2b5be" stroke-width="0.35" textLength="62.0" lengthAdjust="spacingAndGlyphs">18800.00</text>
<text x="1220.6000000000001" y="599.5" font-size="15.2" fill="#b2b5be" stroke="#b2b5be" stroke-width="0.35" textLength="62.0" lengthAdjust="spacingAndGlyphs">18500.00</text>
<text x="1220.6000000000001" y="639.9" font-size="15.2" fill="#b2b5be" stroke="#b2b5be" stroke-width="0.35" textLength="62.0" lengthAdjust="spacingAndGlyphs">18220.00</text>
<text x="1220.6000000000001" y="680.5" font-size="15.2" fill="#b2b5be" stroke="#b2b5be" stroke-width="0.35" textLength="62.0" lengthAdjust="spacingAndGlyphs">17945.00</text>
<path d="M1208 186.0H1287a2 2 0 0 1 2 2V205.0a2 2 0 0 1 -2 2H1208z" fill="#ffffff"/>
<text x="1220.6000000000001" y="201.6" font-size="15.8" fill="#131722" stroke="#131722" stroke-width="0.15" textLength="62.0" lengthAdjust="spacingAndGlyphs">21465.76</text>
<path d="M1208 228.0H1287a2 2 0 0 1 2 2V247.0a2 2 0 0 1 -2 2H1208z" fill="#ffffff"/>
<text x="1220.6000000000001" y="243.6" font-size="15.8" fill="#131722" stroke="#131722" stroke-width="0.15" textLength="62.0" lengthAdjust="spacingAndGlyphs">21137.04</text>
<path d="M1208 367.0H1287a2 2 0 0 1 2 2V386.0a2 2 0 0 1 -2 2H1208z" fill="#ffffff"/>
<text x="1220.6000000000001" y="382.6" font-size="15.8" fill="#131722" stroke="#131722" stroke-width="0.15" textLength="62.0" lengthAdjust="spacingAndGlyphs">20067.84</text>
<path d="M1208 522.0H1287a2 2 0 0 1 2 2V541.0a2 2 0 0 1 -2 2H1208z" fill="#ffffff"/>
<text x="1220.6000000000001" y="537.6" font-size="15.8" fill="#131722" stroke="#131722" stroke-width="0.15" textLength="62.0" lengthAdjust="spacingAndGlyphs">18934.79</text>
<path d="M1208 294H1287a2 2 0 0 1 2 2V331a2 2 0 0 1 -2 2H1208z" fill="#ef5350"/>
<text x="1220.6000000000001" y="309.5" font-size="15.2" fill="#ffffff" stroke="#ffffff" stroke-width="0.35" textLength="62.0" lengthAdjust="spacingAndGlyphs">20617.00</text>
<text x="1220.6000000000001" y="327.3" font-size="15.2" fill="#fbd5d4" stroke="#fbd5d4" stroke-width="0.35" textLength="37" lengthAdjust="spacingAndGlyphs">58:22</text>
<text x="54.5" y="722.2" font-size="15.2" fill="#b2b5be" stroke="#b2b5be" stroke-width="0.35" text-anchor="middle">28</text>
<text x="207.5" y="722.2" font-size="15.2" fill="#b2b5be" stroke="#b2b5be" stroke-width="0.35" text-anchor="middle">30</text>
<text x="513.5" y="722.2" font-size="15.2" fill="#b2b5be" stroke="#b2b5be" stroke-width="0.35" text-anchor="middle">3</text>
<text x="667.5" y="722.2" font-size="15.2" fill="#b2b5be" stroke="#b2b5be" stroke-width="0.35" text-anchor="middle">5</text>
<text x="820.5" y="722.2" font-size="15.2" fill="#b2b5be" stroke="#b2b5be" stroke-width="0.35" text-anchor="middle">7</text>
<text x="973.5" y="722.2" font-size="15.2" fill="#b2b5be" stroke="#b2b5be" stroke-width="0.35" text-anchor="middle">9</text>
<text x="1126.5" y="722.2" font-size="15.2" fill="#b2b5be" stroke="#b2b5be" stroke-width="0.35" text-anchor="middle">11</text>
<text x="348.1" y="722.2" font-size="15.2" fill="#b2b5be" stroke="#b2b5be" stroke-width="0.1" textLength="24.5" lengthAdjust="spacingAndGlyphs" font-weight="bold">Kas</text>
<g transform="translate(13,747) scale(0.678)" fill="#d1d4dc"><path d="M14 22H7V11H0V4h14v18zM28 22h-8l7.5-18h8L28 22z"/><circle cx="20" cy="8" r="4"/></g>
<text x="41.9" y="761.7" font-size="15.6" fill="#d1d4dc" stroke="#d1d4dc" stroke-width="0.6" textLength="88.3" lengthAdjust="spacingAndGlyphs">TradingView</text>
</svg></body></html>
